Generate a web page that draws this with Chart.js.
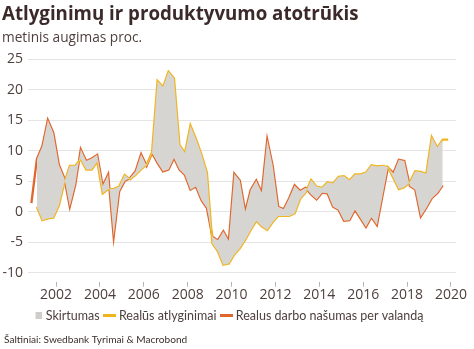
<!DOCTYPE html>
<html>
<head>
<meta charset="utf-8">
<script src="https://cdn.jsdelivr.net/npm/chart.js@4/dist/chart.umd.min.js"></script>
<style>
html,body{margin:0;padding:0;background:#fff;}
#wrap{position:relative;width:474px;height:349px;}
</style>
</head>
<body>
<div id="wrap"><canvas id="c" width="474" height="349"></canvas></div>
<script>
// ---- data (quarterly, annual % change) ----
const titleText = "Atlyginimų ir produktyvumo atotrūkis";
const subtitleText = "metinis augimas proc.";
const sourceText = "Šaltiniai: Swedbank Tyrimai & Macrobond";
const seriesNames = ["Skirtumas", "Realūs atlyginimai", "Realus darbo našumas per valandą"];
const firstQuarterYear = 2000; // first quarter: 2000 Q4
const firstQuarterNum = 4;

// Realus darbo našumas per valandą: 2000Q4 .. 2019Q3
const productivity = [1.4, 8.6, 10.7, 15.0, 12.9, 7.7, 5.5, 0.8, 4.4, 10.2,
  8.3, 8.7, 9.3, 4.2, 6.1, -4.1, 3.3, 5.0, 5.5, 6.6,
  9.4, 7.5, 9.6, 8.0, 6.6, 6.9, 8.8, 6.9, 6.0, 3.6,
  4.1, 1.9, 0.6, -4.1, -4.7, -3.2, -4.8, 6.2, 5.1, 0.0,
  3.6, 5.1, 3.1, 11.8, 7.5, 0.8, 0.4, 2.2, 4.3, 3.4,
  3.9, 2.8, 2.0, 3.1, 3.0, 0.8, 0.3, -1.5, -1.4, 0.3,
  -1.1, -2.5, -0.9, -2.2, 2.5, 7.2, 6.3, 8.5, 8.3, 4.2,
  3.6, -0.8, 0.6, 2.2, 3.0, 4.3];

// Realūs atlyginimai: 2001Q1 .. 2019Q4 (null for 2000Q4)
const wages = [null, 0.8, -1.4, -1.1, -1.0, 1.0, 4.7, 7.5, 7.5, 8.6,
  6.9, 6.9, 8.2, 3.0, 3.7, 3.7, 4.1, 6.0, 5.3, 6.0,
  6.9, 7.7, 9.7, 21.4, 20.4, 22.9, 21.8, 10.9, 9.6, 14.1,
  11.9, 9.4, 6.4, -5.2, -6.5, -8.7, -8.5, -7.0, -6.0, -4.6,
  -3.0, -1.5, -2.4, -3.0, -1.7, -0.7, -0.7, -0.7, -0.3, 2.1,
  3.1, 5.2, 4.1, 3.9, 4.8, 4.6, 5.7, 5.8, 5.1, 6.1,
  6.1, 6.4, 7.6, 7.4, 7.5, 7.3, 5.5, 3.7, 4.0, 4.8,
  6.6, 6.5, 6.2, 12.2, 10.5, 11.8, 11.8];

const tickYears = [2002, 2004, 2006, 2008, 2010, 2012, 2014, 2016, 2018, 2020];
const yTicks = [-10, -5, 0, 5, 10, 15, 20, 25];

// ---- build ----
const nQ = Math.max(productivity.length, wages.length);
const quarterX = [];
for (let i = 0; i < nQ; i++) {
  const q = firstQuarterNum - 1 + i;
  quarterX.push(firstQuarterYear + Math.floor(q / 4) + (q % 4) / 4 + 0.125);
}
const toPts = arr => arr.map((v, i) => (v === null || v === undefined) ? null : {x: quarterX[i], y: v}).filter(p => p);
const gapPts = [];
for (let i = 0; i < nQ; i++) {
  if (wages[i] != null && productivity[i] != null) gapPts.push({x: quarterX[i], y: wages[i]});
}

const COL_Y = '#f0b41e', COL_O = '#e0662b', COL_F = '#d7d5d2', TXT = '#4e3f3d';

function mk(w, h, color, x0, mw) {
  const c = document.createElement('canvas');
  c.width = w; c.height = h;
  const x = c.getContext('2d');
  x.fillStyle = color; x.fillRect(x0, 0, mw, h);
  return c;
}
const legendImgs = [mk(13, 7, '#cfcdca', 6, 7), mk(13, 3, COL_Y, 0, 13), mk(13, 3, COL_O, 0, 13)];

const textPlugin = {
  id: 'headerFooterText',
  afterDraw(chart) {
    const ctx = chart.ctx;
    ctx.save();
    ctx.textBaseline = 'alphabetic';
    ctx.textAlign = 'left';
    ctx.fillStyle = '#3b2a29';
    ctx.font = 'bold 18.7px "Open Sans"';
    ctx.fillText(titleText, 2, 20);
    ctx.fillStyle = TXT;
    ctx.font = '13.7px "Open Sans"';
    ctx.fillText(subtitleText, 2, 42);
    ctx.fillStyle = '#3a2e2d';
    ctx.font = '10.1px Lato';
    ctx.fillText(sourceText, 4, 343);
    ctx.restore();
  }
};

Chart.defaults.font.family = '"Open Sans", sans-serif';
Chart.defaults.color = TXT;

new Chart(document.getElementById('c'), {
  type: 'line',
  data: {
    datasets: [
      {label: seriesNames[0], data: gapPts, borderWidth: 0, borderColor: 'rgba(0,0,0,0)', pointRadius: 0,
       backgroundColor: COL_F, fill: {target: 2, above: COL_F, below: COL_F}, tension: 0},
      {label: seriesNames[1], data: toPts(wages), borderColor: COL_Y, backgroundColor: COL_Y, borderWidth: 2.3, pointRadius: 0, fill: false, tension: 0},
      {label: seriesNames[2], data: toPts(productivity), borderColor: COL_O, backgroundColor: COL_O, borderWidth: 2.3, pointRadius: 0, fill: false, tension: 0}
    ]
  },
  options: {
    responsive: false,
    animation: false,
    layout: {padding: {left: 0, right: 18, top: 59, bottom: 17}},
    plugins: {
      tooltip: {enabled: false},
      title: {display: false},
      legend: {
        position: 'bottom',
        labels: {
          usePointStyle: true, boxWidth: 7, boxHeight: 7, padding: 6,
          color: TXT, font: {size: 12.5, family: 'Lato'},
          generateLabels(chart) {
            return chart.data.datasets.map((ds, i) => ({
              text: ds.label, pointStyle: legendImgs[i], fillStyle: ds.backgroundColor,
              strokeStyle: 'rgba(0,0,0,0)', lineWidth: 0, hidden: false, datasetIndex: i, fontColor: TXT
            }));
          }
        }
      }
    },
    scales: {
      x: {
        type: 'linear', min: 2000.72, max: 2020.23,
        afterBuildTicks(s) { s.ticks = tickYears.map(v => ({value: v})); },
        ticks: {callback: v => String(v), font: {size: 14}, color: TXT, padding: 0, maxRotation: 0, autoSkip: false},
        grid: {drawOnChartArea: false, drawTicks: true, tickLength: 14, tickColor: '#b5b5b5',
               tickBorderDash: [0, 9, 5, 0], tickWidth: 1},
        border: {display: false}
      },
      y: {
        min: -10, max: 25,
        afterBuildTicks(s) { s.ticks = yTicks.map(v => ({value: v})); },
        afterFit(s) { s.width = 28; },
        ticks: {font: {size: 14}, color: TXT, padding: 5},
        grid: {color: '#e4e4e4', drawTicks: false, lineWidth: 1},
        border: {display: false}
      }
    }
  },
  plugins: [textPlugin]
});
</script>
</body>
</html>
